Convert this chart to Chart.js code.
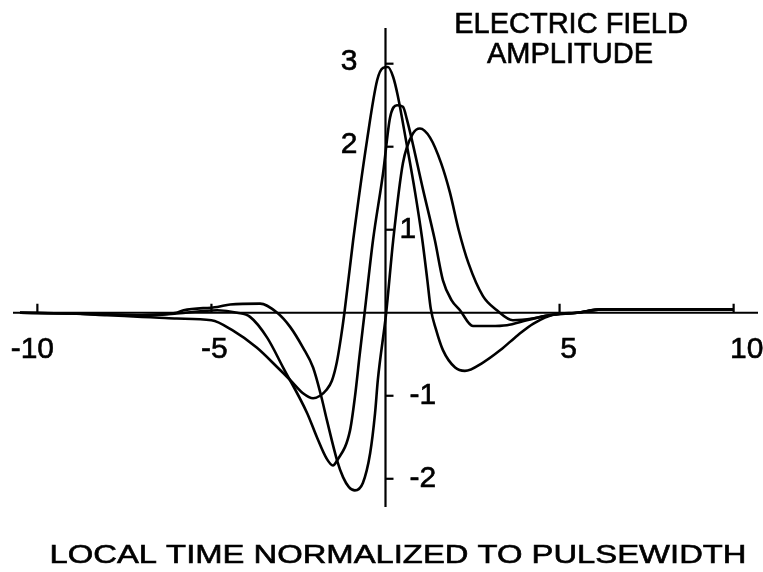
<!DOCTYPE html>
<html>
<head>
<meta charset="utf-8">
<script src="https://cdn.jsdelivr.net/npm/chart.js@4.4.1/dist/chart.umd.min.js"></script>
<style>
  html, body { margin: 0; padding: 0; background: #fff; }
  #wrap { width: 763px; height: 572px; }
</style>
</head>
<body>
<div id="wrap"><canvas id="pulse"></canvas></div>
<script>
// local time (pulsewidths) and field amplitude
const timeA = [-10.5, -9, -8, -7, -6.5, -6, -5, -4.4, -3.7, -3.1, -2.74, -2.37, -2.08, -1.88, -1.7, -1.54, -1.4, -1.28, -1.18, -0.93, -0.53, -0.24, -0.07, 0.07, 0.22, 0.35, 0.6, 0.85, 1.05, 1.2, 1.3, 1.45, 1.65, 2.0, 2.28, 2.8, 3.3, 3.8, 4.25, 4.85, 5.5, 6.2, 8, 10];
const fieldA = [0, -0.01, -0.03, -0.05, -0.06, -0.07, -0.09, -0.21, -0.42, -0.66, -0.81, -0.97, -1.03, -1.0, -0.93, -0.82, -0.6, -0.3, 0, 0.87, 2.08, 2.8, 2.95, 2.96, 2.84, 2.62, 2.05, 1.45, 0.9, 0.4, 0.05, -0.2, -0.45, -0.66, -0.7, -0.6, -0.45, -0.27, -0.13, -0.02, 0, 0.04, 0.04, 0.04];

const timeB = [-10.5, -9, -8, -7, -6, -4.83, -4.26, -3.89, -3.4, -2.94, -2.25, -1.97, -1.7, -1.51, -1.39, -1.02, -0.88, -0.74, -0.6, -0.36, -0.07, 0.13, 0.33, 0.5, 0.62, 1.08, 1.42, 1.65, 1.9, 2.14, 2.51, 3.0, 3.49, 4.06, 4.7, 5.5, 6.2, 8, 10];
const fieldB = [0, -0.01, -0.02, -0.03, -0.01, 0.03, 0, -0.05, -0.3, -0.66, -1.21, -1.5, -1.75, -1.84, -1.78, -1.42, -1.02, -0.5, 0, 0.87, 1.68, 2.35, 2.5, 2.48, 2.32, 1.48, 0.87, 0.39, 0.15, 0.03, -0.16, -0.16, -0.15, -0.09, -0.03, 0, 0.04, 0.04, 0.04];

const timeC = [-10.5, -9, -8, -7, -6, -5.8, -4.83, -4.46, -3.6, -3.11, -2.74, -2.37, -2.08, -1.85, -1.68, -1.39, -1.22, -1.05, -0.88, -0.65, -0.44, -0.3, -0.22, 0.02, 0.22, 0.5, 0.79, 0.99, 1.28, 1.6, 1.85, 2.1, 2.38, 2.8, 3.2, 3.66, 4.23, 4.7, 5.5, 6.2, 8, 10];
const fieldC = [0, -0.01, -0.02, -0.03, 0, 0.03, 0.07, 0.1, 0.11, 0, -0.17, -0.42, -0.66, -1.0, -1.3, -1.78, -1.98, -2.1, -2.14, -2.05, -1.69, -1.21, -0.81, 0, 0.87, 1.8, 2.16, 2.22, 2.11, 1.8, 1.45, 1.0, 0.6, 0.2, 0.03, -0.09, -0.07, -0.03, 0, 0.04, 0.04, 0.04];

const xTicks = [-10, -5, 5, 10];
const yTicks = [3, 2, 1, -1, -2];

function pts(t, e) {
  return t.map((v, i) => ({ x: v, y: e[i] }));
}

const font = '"Liberation Sans", Arial, Helvetica, sans-serif';

// draws text a touch heavier, like the scanned lettering
function ink(ctx, s, x, y) {
  ctx.fillText(s, x, y);
  ctx.strokeText(s, x, y);
}

// axes crossing at the origin, ticks and all the lettering
const crossAxes = {
  id: "crossAxes",
  afterDatasetsDraw(chart) {
    const ctx = chart.ctx;
    const xs = chart.scales.x;
    const ys = chart.scales.y;
    const x0 = xs.getPixelForValue(0);
    const y0 = ys.getPixelForValue(0);
    ctx.save();
    ctx.strokeStyle = "#000";
    ctx.fillStyle = "#000";
    ctx.lineWidth = 2.2;
    ctx.beginPath();
    ctx.moveTo(xs.left, y0);
    ctx.lineTo(xs.right, y0);
    ctx.moveTo(x0, ys.top);
    ctx.lineTo(x0, ys.bottom);
    ctx.stroke();

    const xShift = [-5, 3, 9, 13];
    xTicks.forEach((v) => {
      const px = xs.getPixelForValue(v);
      ctx.beginPath();
      ctx.moveTo(px, y0);
      ctx.lineTo(px, y0 - 9);
      ctx.stroke();
    });
    yTicks.forEach((v) => {
      const py = ys.getPixelForValue(v);
      ctx.beginPath();
      ctx.moveTo(x0, py);
      ctx.lineTo(x0 + 8, py);
      ctx.stroke();
    });

    ctx.lineWidth = 0.6;
    ctx.font = "30px " + font;
    ctx.textBaseline = "middle";
    ctx.textAlign = "center";
    xTicks.forEach((v, i) => {
      ink(ctx, String(v), xs.getPixelForValue(v) + xShift[i], y0 + 37);
    });
    yTicks.forEach((v) => {
      const py = ys.getPixelForValue(v);
      if (v >= 2) {
        ctx.textAlign = "right";
        ink(ctx, String(v), x0 - 28, py - 2);
      } else {
        ctx.textAlign = "left";
        ink(ctx, String(v), x0 + (v > 0 ? 14 : 24), py);
      }
    });

    ctx.textAlign = "center";
    ctx.textBaseline = "alphabetic";
    ctx.font = "29px " + font;
    ink(ctx, "ELECTRIC FIELD", 571, 33);
    ink(ctx, "AMPLITUDE", 570, 63);

    ctx.font = "26px " + font;
    const label = "LOCAL TIME NORMALIZED TO PULSEWIDTH";
    const w = ctx.measureText(label).width;
    ctx.translate(398, 563);
    ctx.scale(697 / w, 1);
    ink(ctx, label, 0, 0);
    ctx.restore();
  },
};

const lineStyle = {
  borderColor: "#000",
  borderWidth: 2.6,
  pointRadius: 0,
  fill: false,
  cubicInterpolationMode: "monotone",
};

new Chart("pulse", {
  type: "line",
  data: {
    datasets: [
      Object.assign({ label: "A", data: pts(timeA, fieldA) }, lineStyle),
      Object.assign({ label: "B", data: pts(timeB, fieldB) }, lineStyle),
      Object.assign({ label: "C", data: pts(timeC, fieldC) }, lineStyle),
    ],
  },
  options: {
    responsive: true,
    maintainAspectRatio: false,
    animation: false,
    layout: { padding: { left: 13, right: 5, top: 28, bottom: 65 } },
    scales: {
      x: { type: "linear", min: -10.7, max: 10.7, display: false },
      y: { type: "linear", min: -2.34, max: 3.43, display: false },
    },
    plugins: {
      legend: { display: false },
      tooltip: { enabled: false },
    },
  },
  plugins: [crossAxes],
});
</script>
</body>
</html>
